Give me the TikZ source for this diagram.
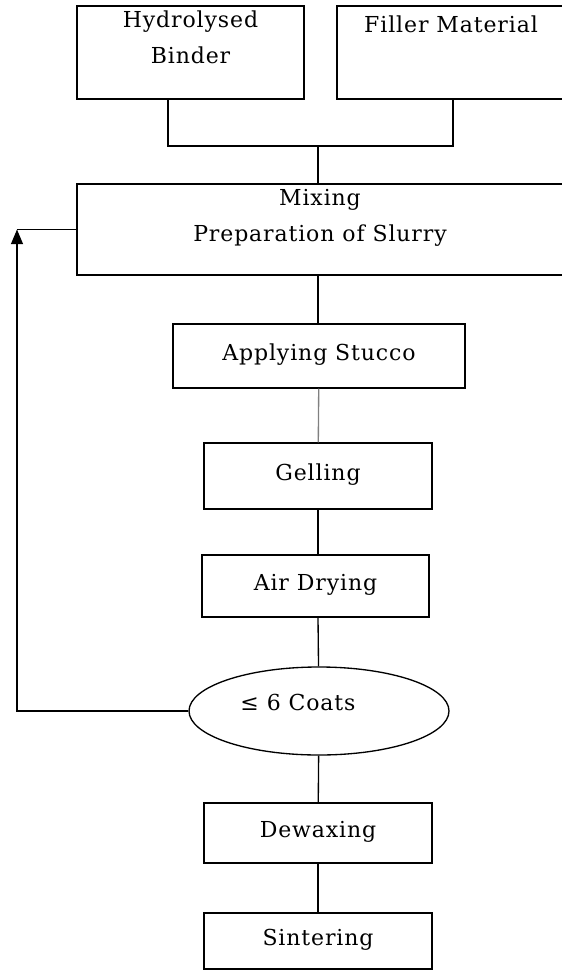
\documentclass[tikz,border=0pt]{standalone}
\usepackage{fontspec}
\setmainfont{DejaVu Serif}[LetterSpace=4]
\usetikzlibrary{positioning,shapes.geometric,arrows.meta}

\begin{document}
\begin{tikzpicture}[x=0.75pt,y=-0.75pt,
    every node/.style={font=\fontsize{16.5}{27}\selectfont},
    box/.style={draw, line width=1pt, rectangle, inner sep=0pt, text depth=0.6em},
    lbl/.style={inner sep=0pt, align=center, text depth=0pt},
    link/.style={line width=1pt}]
    \useasboundingbox (0,0) rectangle (561,970);
    % raw materials
    \node[box, text depth=0pt, minimum width=170.25pt, minimum height=69.75pt] (bind) at (190.5,52.5) {};
    \node[lbl, below=4pt of bind.north] (bindtext) {Hydrolysed\\Binder};
    \node[box, text depth=0pt, minimum width=171pt, minimum height=69.75pt] (filler) at (451,52.5) {};
    \node[lbl, below=7.5pt of filler.north] (fillertext) {Filler Material};
    \node[box, text depth=0pt, minimum width=364.5pt, minimum height=68.25pt] (mix) at (320,229.5) {};
    \node[lbl, below=4pt of mix.north] (mixtext) {Mixing\\Preparation of Slurry};
    % process steps
    \node[box, minimum width=219pt, minimum height=48pt] (stucco) at (319,356) {Applying Stucco};
    \node[box, minimum width=171pt, minimum height=49.5pt] (gel) at (318,476) {Gelling};
    \node[box, minimum width=170.25pt, minimum height=46.5pt] (air) at (315.5,586) {Air Drying};
    \node[draw, ellipse, line width=1pt, inner sep=0pt, minimum width=195pt, minimum height=66pt] (coats) at (319,711) {};
    \node[lbl] (coatstext) at ([shift={(-21,-9)}]coats.center) {≤ 6 Coats};
    \node[box, minimum width=171pt, minimum height=45pt] (dewax) at (318,833) {Dewaxing};
    \node[box, minimum width=171pt, minimum height=42pt] (sinter) at (318,941) {Sintering};
    % connectors
    \coordinate (join) at (318,146);
    \coordinate (loop) at (17,0);
    \draw[link] ([xshift=-16.9pt]bind.south) |- (join) -| ([xshift=1.5pt]filler.south);
    \draw[link] (join) -- (join |- mix.north);
    \draw[link] (join |- mix.south) -- (join |- stucco.north);
    \draw[link, gray] (stucco) -- (gel);
    \draw[link] (gel) -- (air.north -| gel);
    \draw[link] (air.south -| gel) -- (coats);
    \draw[link] (coats) -- (dewax);
    \draw[link] (dewax) -- (sinter);
    \draw[link, -{Triangle[length=11pt, width=9pt]}] (coats.west) -| (loop |- mix.west);
    \draw[link] (loop |- mix.west) -- (mix.west);
\end{tikzpicture}
\end{document}
